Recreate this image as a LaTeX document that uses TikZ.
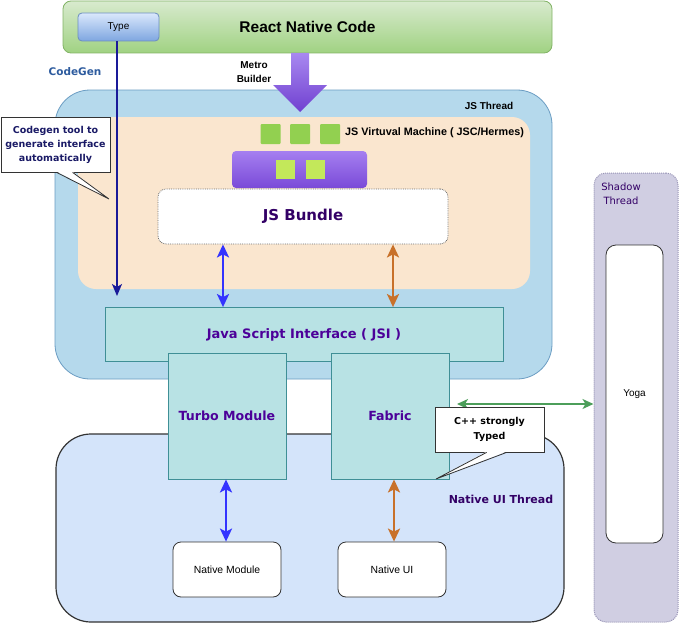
\documentclass[tikz,border=0pt]{standalone}
\usepackage{fontspec}
\setmainfont{Liberation Sans}
\newfontfamily\verd{DejaVu Sans}
\usetikzlibrary{arrows.meta,calc}
\definecolor{jsfill}{HTML}{B5D9EC}
\definecolor{jsdraw}{HTML}{6A9CC2}
\definecolor{peach}{HTML}{FAE6CF}
\definecolor{jsifill}{HTML}{B8E2E4}
\definecolor{jsidraw}{HTML}{3F8F96}
\definecolor{nuifill}{HTML}{D4E4FA}
\definecolor{shfill}{HTML}{D0CEE2}
\definecolor{shdraw}{HTML}{9793B5}
\definecolor{txtpurple}{HTML}{4C0099}
\definecolor{darkpurple}{HTML}{330066}
\definecolor{navy}{HTML}{1A1A66}
\definecolor{cgblue}{HTML}{2D5B9E}
\definecolor{arrblue}{HTML}{3333FF}
\definecolor{arrorange}{HTML}{C8712A}
\definecolor{arrgreen}{HTML}{4C9E5A}
\definecolor{typeline}{HTML}{1A1A99}
\definecolor{sqgreen}{HTML}{92D050}
\definecolor{sqlime}{HTML}{C3E85A}
\definecolor{dgrey}{HTML}{333333}
\tikzset{
  box/.style={inner sep=0pt, align=center},
  lbl/.style={inner sep=0pt, align=center},
  vbold/.style={font=\verd\bfseries\fontsize{#1}{#1}\selectfont},
  hbold/.style={font=\bfseries\fontsize{#1}{#1}\selectfont},
  hreg/.style={font=\fontsize{#1}{#1}\selectfont},
  dblarr/.style={draw=#1, line width=2.3pt, {Stealth[length=13pt,width=12pt,inset=3pt]}-{Stealth[length=13pt,width=12pt,inset=3pt]}},
  whitebox/.style={box, fill=white, draw=dgrey, line width=0.8pt, rounded corners=8pt},
  sq/.style={box, minimum width=#1, minimum height=#1, rounded corners=1pt},
  callbox/.style={box, fill=white, draw=dgrey, line width=0.8pt}
}
\begin{document}
\begin{tikzpicture}[x=1pt,y=-1pt]
\useasboundingbox (0,0) rectangle (680,626);

% Shadow thread
\node[box, minimum width=84pt, minimum height=449pt, fill=shfill, draw=shdraw, densely dotted, line width=1pt, rounded corners=12pt] (shadow) at (636,397.5) {};
\node[lbl, font=\verd\fontsize{10}{13.5}\selectfont, text=darkpurple] (shlbl) at (621,194) {Shadow\\Thread};
\node[box, minimum width=57pt, minimum height=298pt, fill=white, draw=dgrey, line width=0.8pt, rounded corners=10pt, hreg=10] (yoga) at (634.5,394) {Yoga};

% JS thread
\node[box, minimum width=497pt, minimum height=289pt, fill=jsfill, draw=jsdraw, line width=0.8pt, rounded corners=35pt] (jst) at (303.5,234.5) {};
\node[lbl, hbold=10] (jstlbl) at (489,106) {JS Thread};
\node[box, minimum width=452pt, minimum height=172pt, fill=peach, rounded corners=18pt] (peach) at (304,203) {};

% top green
\node[box, minimum width=489pt, minimum height=52pt, top color={rgb,255:red,216;green,234;blue,206}, bottom color={rgb,255:red,160;green,210;blue,130}, draw={rgb,255:red,130;green,179;blue,102}, line width=0.8pt, rounded corners=8pt, hbold=15.5] (rn) at (307.5,27) {React Native Code};
\node[box, minimum width=81pt, minimum height=28pt, top color={rgb,255:red,218;green,232;blue,252}, bottom color={rgb,255:red,126;green,166;blue,224}, draw={rgb,255:red,108;green,142;blue,191}, line width=0.8pt, rounded corners=4pt, hreg=10] (type) at (118.5,27) {Type};
\node[lbl, vbold=10.5, text=cgblue] (cglbl) at (75,72) {CodeGen};
\node[lbl, font=\bfseries\fontsize{10}{13.5}\selectfont] (metro) at (254,72) {Metro\\Builder};

% purple arrow
\shade[top color={rgb,255:red,168;green,136;blue,240}, bottom color={rgb,255:red,112;green,64;blue,208}]
  (291,53) -- (309,53) -- (309,85) -- (327,85) -- (300,112) -- (273,85) -- (291,85) -- cycle;

% VM
\node[sq=20pt, fill=sqgreen] (g1) at (270.5,134) {};
\node[sq=20pt, fill=sqgreen] (g2) at (300,134) {};
\node[sq=20pt, fill=sqgreen] (g3) at (330,134) {};
\node[lbl, anchor=west, hbold=10.8] (vm) at (345,133) {JS Virtuval Machine ( JSC/Hermes)};
\node[box, minimum width=135pt, minimum height=37pt, top color={rgb,255:red,165;green,127;blue,240}, bottom color={rgb,255:red,122;green,74;blue,216}, rounded corners=4pt] (pbar) at (299.5,169.5) {};
\node[sq=19pt, fill=sqlime, rounded corners=0pt] (l1) at (285.5,169.5) {};
\node[sq=19pt, fill=sqlime, rounded corners=0pt] (l2) at (315,169.5) {};

% bundle
\node[box, minimum width=290pt, minimum height=55pt, fill=white, draw={rgb,255:red,110;green,110;blue,110}, densely dotted, line width=0.8pt, rounded corners=8pt, vbold=15, text=darkpurple] (bundle) at (303,216.5) {JS Bundle};

% Native UI thread
\node[box, minimum width=508pt, minimum height=188pt, fill=nuifill, draw=dgrey, line width=1.2pt, rounded corners=35pt] (nui) at (310,528) {};
\node[lbl, vbold=11, text=darkpurple] (nuilbl) at (501,499) {Native UI Thread};

% JSI, turbo, fabric
\node[box, minimum width=398pt, minimum height=54pt, fill=jsifill, draw=jsidraw, line width=0.8pt, vbold=13, text=txtpurple] (jsi) at (304,334.5) {Java Script Interface ( JSI )};
\node[box, minimum width=118pt, minimum height=126pt, fill=jsifill, draw=jsidraw, line width=0.8pt, vbold=12.6, text=txtpurple] (tm) at (227,416) {Turbo Module};
\node[box, minimum width=118pt, minimum height=126pt, fill=jsifill, draw=jsidraw, line width=0.8pt, vbold=12.6, text=txtpurple] (fab) at (390,416) {Fabric};

\node[whitebox, minimum width=108pt, minimum height=55pt, hreg=10.4] (nm) at (227,569.5) {Native Module};
\node[whitebox, minimum width=108pt, minimum height=55pt, hreg=10.4] (nu) at (392,569.5) {Native UI};

% arrows
\draw[dblarr=arrblue] (bundle.south -| 223,0) -- (jsi.north -| 223,0);
\draw[dblarr=arrorange] (bundle.south -| 393,0) -- (jsi.north -| 393,0);
\draw[dblarr=arrblue] (tm.south -| 226,0) -- (nm.north -| 226,0);
\draw[dblarr=arrorange] (fab.south -| 394,0) -- (nu.north -| 394,0);
\coordinate (gl) at (457,404);
\draw[draw=arrgreen, line width=1.5pt, {Stealth[length=11pt,width=10pt,inset=3pt]}-{Stealth[length=11pt,width=10pt,inset=3pt]}] (gl) -- (gl -| shadow.west);
\coordinate (typeend) at (117,296);
\draw[draw=typeline, line width=1.4pt, -{Stealth[length=12pt,width=10pt,inset=3pt]}] (type.south -| typeend) -- (typeend);

% callouts
\node[callbox, minimum width=109pt, minimum height=55pt, font=\verd\bfseries\fontsize{9.5}{14}\selectfont, text=navy] (cg) at (55.5,144.5) {Codegen tool to\\generate interface\\automatically};
\coordinate (cga) at ($(cg.south west)+(56,0)$);
\coordinate (cgb) at ($(cg.south west)+(72,0)$);
\coordinate (cgt) at (109,199);
\fill[white] ($(cga)+(0,-0.8)$) -- (cgt) -- ($(cgb)+(0,-0.8)$) -- cycle;
\draw[dgrey, line width=0.8pt] (cga) -- (cgt) -- (cgb);

\node[callbox, minimum width=109pt, minimum height=45pt, font=\verd\bfseries\fontsize{9.5}{15}\selectfont] (cpp) at (489.5,429.5) {C++ strongly\\Typed};
\coordinate (cpa) at ($(cpp.south west)+(52,0)$);
\coordinate (cpb) at ($(cpp.south west)+(72,0)$);
\coordinate (cpt) at (436,479);
\fill[white] ($(cpa)+(0,-0.8)$) -- (cpt) -- ($(cpb)+(0,-0.8)$) -- cycle;
\draw[dgrey, line width=0.8pt] (cpa) -- (cpt) -- (cpb);
\end{tikzpicture}
\end{document}
